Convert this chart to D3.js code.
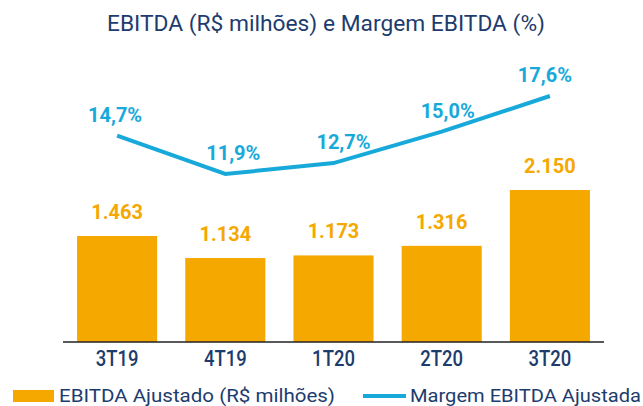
<!DOCTYPE html>
<html>
<head>
<meta charset="utf-8">
<script src="https://cdn.jsdelivr.net/npm/d3@7"></script>
<style>
  html, body { margin: 0; padding: 0; background: #fff; }
  svg { display: block; font-family: Roboto, "Noto Sans", sans-serif; }
</style>
</head>
<body>
<div id="view"></div>
<script>
// dados
const quarters = ["3T19", "4T19", "1T20", "2T20", "3T20"];
const ebitda   = [1463, 1134, 1173, 1316, 2150];
const margem   = [14.7, 11.9, 12.7, 15.0, 17.6];
const ebitdaLabels = ["1.463", "1.134", "1.173", "1.316", "2.150"];
const margemLabels = ["14,7%", "11,9%", "12,7%", "15,0%", "17,6%"];

const ORANGE = "#f5a800", BLUE = "#18a9db", NAVY = "#1d3c6e";
const W = 643, H = 406;

const svg = d3.select("#view").append("svg")
  .attr("width", W).attr("height", H);

// aperta o texto (fonte estilo condensada)
function condense(sel, k) {
  sel.each(function () {
    const len = this.getComputedTextLength();
    d3.select(this).attr("textLength", len * k).attr("lengthAdjust", "spacingAndGlyphs");
  });
}

// título
svg.append("text")
  .attr("x", 326).attr("y", 31)
  .attr("text-anchor", "middle")
  .attr("fill", NAVY)
  .style("font-size", "22px").style("font-weight", 400)
  .attr("textLength", 438).attr("lengthAdjust", "spacingAndGlyphs")
  .text("EBITDA (R$ milhões) e Margem EBITDA (%)");

// escalas
const x = d3.scaleBand().domain(quarters).range([63, 604]).paddingInner(0.26).paddingOuter(0.13);
const y = d3.scaleLinear().domain([-120, 2150]).range([342, 190]);
const y2 = d3.scaleLinear().domain([11.9, 17.6]).range([174, 96]);
const base = y(-120);

// barras
svg.selectAll("rect.bar")
  .data(ebitda)
  .join("rect")
  .attr("class", "bar")
  .attr("x", (d, i) => x(quarters[i]))
  .attr("y", d => y(d))
  .attr("width", x.bandwidth())
  .attr("height", d => base - y(d))
  .attr("fill", ORANGE);

svg.selectAll("text.blab")
  .data(ebitda)
  .join("text")
  .attr("class", "blab")
  .attr("x", (d, i) => x(quarters[i]) + x.bandwidth() / 2)
  .attr("y", d => y(d) - 17)
  .attr("text-anchor", "middle")
  .attr("fill", ORANGE)
  .style("font-size", "20px").style("font-weight", "bold")
  .text((d, i) => ebitdaLabels[i]);

// eixo X
const xAxis = svg.append("g")
  .attr("transform", `translate(0,${base})`)
  .call(d3.axisBottom(x).tickSize(0).tickPadding(8));
xAxis.select(".domain").attr("stroke", "#222").attr("stroke-width", 1.5)
  .attr("d", "M63,0H604");
xAxis.selectAll("text")
  .attr("fill", NAVY)
  .attr("dy", 0).attr("y", 24)
  .style("font-size", "22px").style("font-weight", 500)
  .style("font-family", "Roboto, sans-serif")
  .call(condense, 0.84);

// linha margem
const line = d3.line()
  .x((d, i) => x(quarters[i]) + x.bandwidth() / 2)
  .y(d => y2(d));

svg.append("path")
  .datum(margem)
  .attr("d", line)
  .attr("fill", "none")
  .attr("stroke", BLUE)
  .attr("stroke-width", 4);

const lblDx = [-2, 8, 10, 6, -5];
svg.selectAll("text.mlab")
  .data(margem)
  .join("text")
  .attr("class", "mlab")
  .attr("x", (d, i) => x(quarters[i]) + x.bandwidth() / 2 + lblDx[i])
  .attr("y", d => y2(d) - 14)
  .attr("text-anchor", "middle")
  .attr("fill", BLUE)
  .style("font-size", "20px").style("font-weight", "bold")
  .text((d, i) => margemLabels[i]);

// legenda
const leg = svg.append("g");
leg.append("rect").attr("x", 13).attr("y", 390).attr("width", 41).attr("height", 12).attr("fill", ORANGE);
leg.append("text").attr("x", 59).attr("y", 402)
  .attr("fill", NAVY).style("font-size", "18px").style("font-weight", 400)
  .attr("textLength", 276).attr("lengthAdjust", "spacingAndGlyphs")
  .text("EBITDA Ajustado (R$ milhões)");
leg.append("line").attr("x1", 363).attr("x2", 406).attr("y1", 396).attr("y2", 396)
  .attr("stroke", BLUE).attr("stroke-width", 4);
leg.append("text").attr("x", 410).attr("y", 402)
  .attr("fill", NAVY).style("font-size", "18px").style("font-weight", 400)
  .attr("textLength", 231).attr("lengthAdjust", "spacingAndGlyphs")
  .text("Margem EBITDA Ajustada");
</script>
</body>
</html>
